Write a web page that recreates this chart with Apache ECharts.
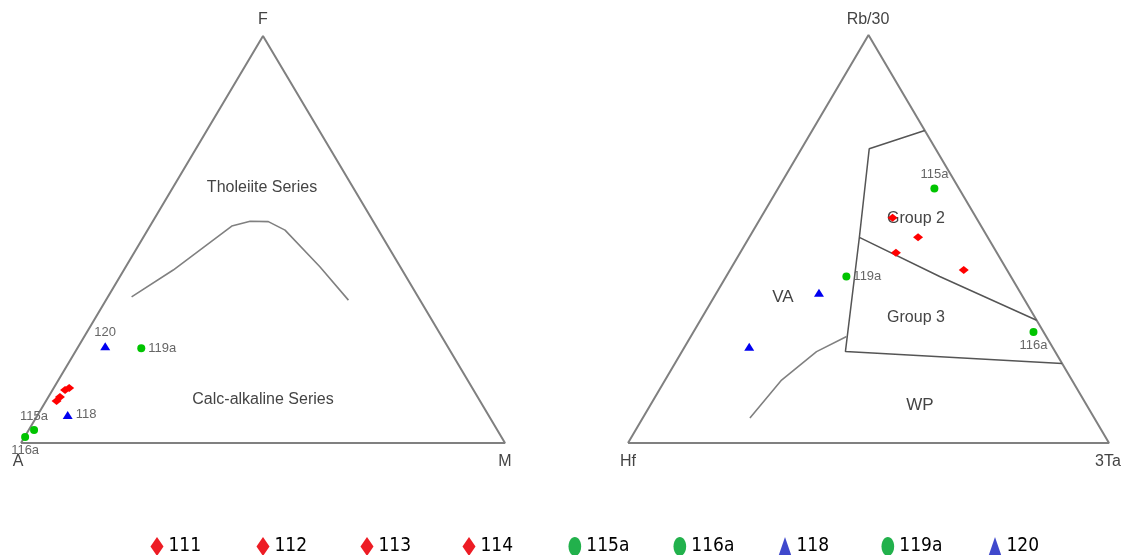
<!DOCTYPE html>
<html><head><meta charset="utf-8">
<script src="https://cdn.jsdelivr.net/npm/echarts@6/dist/echarts.min.js"></script>
<style>html,body{margin:0;padding:0;background:#fff}#c{width:1126px;height:555px}</style>
</head><body><div id="c"></div>
<script>
// ---- data ----
const sampleNames = ['111','112','113','114','115a','116a','118','119a','120'];
const sampleGroup = ['r','r','r','r','g','g','b','g','b'];
// AFM diagram (%): A, F, M
const afmA = [83.3, 84.4, 86.3, 87.5, 95.7, 98.4, 86.9, 63.5, 70.7];
const afmF = [13.5, 13.0, 11.3, 10.3, 3.2, 1.5, 6.9, 23.3, 23.8];
const afmM = [3.2, 2.6, 2.4, 2.2, 1.1, 0.1, 6.2, 13.2, 5.5];
// Hf - Rb/30 - 3Ta diagram (%)
const hfV = [17.4, 14.5, 21.0, 9.0, 5.1, 2.1, 41.9, 34.2, 63.0];
const rbV = [55.2, 50.4, 46.6, 42.4, 62.4, 27.2, 36.8, 40.8, 23.6];
const taV = [27.4, 35.1, 32.4, 48.6, 32.5, 70.7, 21.3, 25.0, 13.4];
// boundary: tholeiite / calc-alkaline (A, F, M)
const thCurve = [[59.2,35.9,4.9],[47.3,42.5,10.2],[29.8,53.3,16.9],[25.4,54.5,20.1],[21.7,54.4,23.9],[19.3,52.3,28.4],[16.6,43.3,40.1],[14.8,35.1,50.1]];
// Hf-Rb-Ta field boundaries (Hf, Rb/30, 3Ta)
const vaBoundary = [[0,76.6,23.4],[13.8,72.1,14.1],[26.7,50.4,22.9],[43.6,22.4,34.0],[0,19.5,80.5]];
const g2g3Boundary = [[26.7,50.4,22.9],[14.8,40.8,44.4],[0,30.1,69.9]];
const wpCurve = [[71.6,6.1,22.3],[60.3,15.4,24.2],[49.6,22.4,28.0],[41.5,26.1,32.4]];
const leftVertexLabels = ['F','A','M'];
const rightVertexLabels = ['Rb/30','Hf','3Ta'];

// ---- helpers ----
function tern(a, top, right){ const s=a+top+right; return [(right + top/2)/s, top/s]; }
const colPlot = {r:'#ff0000', g:'#00c400', b:'#0000f0'};
const colLeg = {r:'#ed1c24', g:'#22b14c', b:'#3f48cc'};
const symPlot = {r:'diamond', g:'circle', b:'triangle'};
const sizePlot = {r:[10,8], g:8, b:[10,8]};
const legIcon = {r:'diamond', g:'path://M6,0 C9.3,0 12,4 12,9 C12,14 9.3,18 6,18 C2.7,18 0,14 0,9 C0,4 2.7,0 6,0 Z', b:'triangle'};
const legCenters = [157, 263, 367, 469, 575, 680, 785, 888, 995];
const leftLabelPos = {'115a':'top','116a':'bottom','118':'right','119a':'right','120':'top'};
const rightLabelPos = {'115a':'top','116a':'bottom','119a':'right'};

const FONT = '"Liberation Sans", Arial, sans-serif';
const series = [];
function lineSeries(idx, pts, color, width){
  series.push({type:'line', xAxisIndex:idx, yAxisIndex:idx, data:pts.map(p=>tern(p[0],p[1],p[2])),
    symbol:'none', silent:true, lineStyle:{color:color, width:width}, z:1, animation:false});
}
lineSeries(0, [[100,0,0],[0,100,0],[0,0,100],[100,0,0]], '#808080', 2);
lineSeries(1, [[100,0,0],[0,100,0],[0,0,100],[100,0,0]], '#808080', 2);
lineSeries(0, thCurve, '#808080', 1.6);
lineSeries(1, vaBoundary, '#555555', 1.5);
lineSeries(1, g2g3Boundary, '#555555', 1.5);
lineSeries(1, wpCurve, '#808080', 1.6);

sampleNames.forEach((n,i)=>{
  const g = sampleGroup[i];
  const mk = (idx, pt, pos) => ({
    name:n, type:'scatter', xAxisIndex:idx, yAxisIndex:idx, data:[pt],
    symbol:symPlot[g], symbolSize:sizePlot[g], itemStyle:{color:colPlot[g], opacity:1}, z:3,
    label:{show:!!pos, position:pos||'right', distance:3, formatter:n, color:'#666', fontSize:13, fontFamily:FONT}
  });
  series.push(mk(0, tern(afmA[i], afmF[i], afmM[i]), leftLabelPos[n]));
  series.push(mk(1, tern(hfV[i], rbV[i], taV[i]), rightLabelPos[n]));
});

function axes(){ return {type:'value', min:0, max:1, show:false}; }
function txt(x,y,s,size,color){ return {type:'text', x:x, y:y, silent:true,
  style:{text:s, fontSize:size, fontFamily:FONT, fill:color||'#444', textAlign:'center', textVerticalAlign:'middle'}}; }

const legends = sampleNames.map((n,i)=>({
  left: legCenters[i]-6.5, top:537, padding:0, itemGap:0, itemWidth:13, itemHeight:19, selectedMode:false,
  textStyle:{fontFamily:'"DejaVu Sans Condensed","Liberation Sans",sans-serif', fontSize:19, color:'#000'},
  data:[{name:n, icon:legIcon[sampleGroup[i]], itemStyle:{color:colLeg[sampleGroup[i]], opacity:1}}]
}));

const chart = echarts.init(document.getElementById('c'), null, {renderer:'canvas'});
chart.setOption({
  animation:false,
  backgroundColor:'#fff',
  grid:[{left:21, top:36, width:484, height:407}, {left:628, top:35, width:481, height:408}],
  xAxis:[Object.assign(axes(),{gridIndex:0}), Object.assign(axes(),{gridIndex:1})],
  yAxis:[Object.assign(axes(),{gridIndex:0}), Object.assign(axes(),{gridIndex:1})],
  legend:legends,
  graphic:[
    txt(263,20,leftVertexLabels[0],16), txt(18,462,leftVertexLabels[1],16), txt(505,462,leftVertexLabels[2],16),
    txt(868,20,rightVertexLabels[0],16), txt(628,462,rightVertexLabels[1],16), txt(1108,462,rightVertexLabels[2],16),
    txt(262,188,'Tholeiite Series',16), txt(263,400,'Calc-alkaline Series',16),
    txt(783,297,'VA',17), txt(916,219,'Group 2',16), txt(916,318,'Group 3',16), txt(920,405,'WP',17)
  ],
  series:series
});
</script></body></html>
